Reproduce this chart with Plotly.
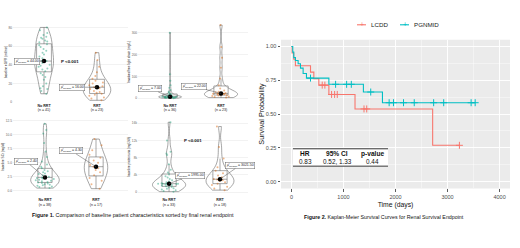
import numpy as np
import plotly.graph_objects as go

W, H = 520, 248
FONT = "Liberation Sans, Arial, sans-serif"

# ---------------- Figure 1 data (violin panels) ----------------
groups = ["No RRT", "RRT"]

egfr_no_rrt = [9, 12, 14, 15, 17, 20, 24, 27, 29, 31, 33, 35, 36, 38, 39, 40, 42, 43, 44, 44,
               44, 45, 47, 49, 51, 53, 55, 57, 59, 61, 62, 64, 65, 66, 68, 69, 70, 72, 74, 77, 80]
egfr_rrt = [2, 4, 5, 7, 8, 9, 10, 11, 12, 14, 15, 16, 17, 18, 20, 21, 23, 25, 28, 32, 38, 45, 53]

flc_no_rrt = [0.5, 1, 1.5, 2, 2.5, 3, 3.5, 4, 4.5, 5, 5.5, 6, 6, 6.5, 7, 7, 7, 7, 7, 8, 9, 10,
              11, 12, 14, 16, 18, 21, 25, 30, 38, 48, 60, 80, 110, 300]
flc_rrt = [3, 6, 8, 10, 12, 14, 16, 18, 19, 20, 21, 22, 24, 27, 30, 35, 45, 60, 90, 140, 185, 235, 335]

scr_no_rrt = [0.5, 0.7, 0.8, 0.9, 1.0, 1.1, 1.2, 1.3, 1.4, 1.5, 1.6, 1.7, 1.8, 1.9, 2.0, 2.1, 2.2,
              2.3, 2.4, 2.4, 2.5, 2.6, 2.8, 3.0, 3.1, 3.3, 3.5, 3.7, 4.0, 4.3, 4.7, 5.2, 6.0, 7.0,
              8.5, 10.2, 10.8, 11.9]
scr_rrt = [0.4, 1.2, 1.8, 2.3, 2.8, 3.3, 3.7, 4.0, 4.3, 4.6, 5.0, 5.4, 5.9, 6.4, 7.2, 8.1, 9.2]

prot_no_rrt = [150, 300, 480, 650, 800, 950, 1100, 1250, 1400, 1550, 1700, 1800, 1900, 1950, 1980,
               1990, 1995, 2100, 2300, 2500, 2800, 3100, 3400, 3700, 4100, 4600, 5200, 6500, 8600,
               9000, 9400, 12000, 16200]
prot_rrt = [500, 900, 1300, 1700, 2000, 2300, 2600, 2800, 2943, 3100, 3500, 3900, 4400, 5000, 5800,
            7800, 10500, 15200]

panel_data = [[egfr_no_rrt, egfr_rrt], [flc_no_rrt, flc_rrt],
              [scr_no_rrt, scr_rrt], [prot_no_rrt, prot_rrt]]
panel_titles = ["baseline eGFR (ml/min)", "Involved free light chain (mg/L)",
                "baseline SCr (mg/dl)", "baseline proteinuria (mg/24h)"]
panel_pvalues = ["P <0.001", "", "", "P <0.001"]
fig1_caption_bold = "Figure 1."
fig1_caption = " Comparison of baseline patient characteristics sorted by final renal endpoint"

# ---------------- Figure 2 data (Kaplan-Meier) ----------------
km_names = ["LCDD", "PGNMID"]
lcdd_time = [0, 13, 45, 77, 367, 431, 527, 720, 1222, 2714]
lcdd_surv = [1.0, 0.952, 0.905, 0.857, 0.81, 0.762, 0.714, 0.645, 0.538, 0.269]
lcdd_censor = [592, 643, 772, 830, 881, 1395, 1447, 3228]
pgnmid_time = [0, 26, 45, 77, 129, 174, 225, 289, 720, 1383, 1749]
pgnmid_surv = [1.0, 0.958, 0.917, 0.896, 0.872, 0.84, 0.80, 0.766, 0.72, 0.663, 0.584]
pgnmid_censor = [367, 849, 1061, 1151, 1524, 1878, 1961, 2154, 2360, 2733, 2926, 3453, 3531]
km_xticks = [0, 1000, 2000, 3000, 4000]
km_yticks = [0.0, 0.25, 0.5, 0.75, 1.0]
table_header = ["HR", "95% CI", "p-value"]
table_values = ["0.83", "0.52, 1.33", "0.44"]
fig2_caption_bold = "Figure 2."
fig2_caption = " Kaplan-Meier Survival Curves for Renal Survival Endpoint"

# ---------------- styles ----------------
pt_colors = ["rgba(27,158,119,0.45)", "rgba(217,95,2,0.45)"]
km_colors = ["#F8766D", "#00BFC4"]


def px(x):
    return x / W


def py(y):
    return 1 - y / H


def paper_text(x, y, text, size, color="#111", xanchor="center"):
    return dict(x=px(x), y=py(y), xref="paper", yref="paper", showarrow=False,
                xanchor=xanchor, yanchor="middle", text=text,
                font=dict(size=size, color=color))


panel_layout = [
    dict(x=(13, 128), y=(22, 103), xr=(-0.585, 1.585), yr=(0, 86), dtick=20, fmt="",
         vw=(0.36, 0.52), lab=((-17, 0), (-25, 0)), p=(70, 62)),
    dict(x=(138, 248), y=(22, 103), xr=(-0.63, 1.53), yr=(-18, 350), dtick=100, fmt="",
         vw=(0.45, 0.65), lab=((-20, -8), (-27, -7)), p=None),
    dict(x=(13, 128), y=(118, 198), xr=(-0.627, 1.627), yr=(-0.97, 13.1), dtick=2.5, fmt=".1f",
         vw=(0.56, 0.46), lab=((-19, -16), (-25, -16)), p=None),
    dict(x=(138, 248), y=(118, 198), xr=(-0.61, 1.55), yr=(-950, 17400), dtick=4000, fmt="",
         vw=(0.65, 0.55), lab=((21, -8), (20, -14)), p=(193, 142)),
]

fig = go.Figure()
layout = dict(width=W, height=H, margin=dict(l=0, r=0, t=0, b=0),
              paper_bgcolor="white", plot_bgcolor="white", showlegend=False,
              font=dict(family=FONT, color="#222"))
annotations = []
shapes = []

for i, (spec, data) in enumerate(zip(panel_layout, panel_data)):
    k = i + 1
    xr_ = "x" if k == 1 else f"x{k}"
    yr_ = "y" if k == 1 else f"y{k}"
    xa = "xaxis" if k == 1 else f"xaxis{k}"
    ya = "yaxis" if k == 1 else f"yaxis{k}"
    for j, g in enumerate(groups):
        vals = data[j]
        vw = spec["vw"][j]
        fig.add_trace(go.Violin(
            x=[g] * len(vals), y=vals, xaxis=xr_, yaxis=yr_, width=vw,
            spanmode="hard", scalemode="width",
            fillcolor="rgba(255,255,255,0)", line=dict(color="#6A6A6A", width=0.6),
            points="all", pointpos=0, jitter=0.7,
            marker=dict(size=2, color=pt_colors[j]),
            box=dict(visible=True, width=min(1.0, 0.28 / vw),
                     fillcolor="rgba(255,255,255,0.5)", line=dict(color="#505050", width=0.5)),
            meanline=dict(visible=False), showlegend=False, hoverinfo="skip"))
        med = float(np.median(vals))
        fig.add_trace(go.Scatter(x=[g], y=[med], xaxis=xr_, yaxis=yr_, mode="markers",
                                 marker=dict(size=4.5, color="black"), showlegend=False,
                                 hoverinfo="skip"))
        ax, ay = spec["lab"][j]
        annotations.append(dict(
            x=j, y=med, xref=xr_, yref=yr_, showarrow=True, ax=ax, ay=ay,
            xanchor="center", yanchor="middle",
            arrowhead=0, arrowwidth=0.5, arrowcolor="#555", standoff=0,
            text=f"<i>μ̂</i><sub>median</sub> = {med:.2f}",
            font=dict(size=3.5, color="#222"), bgcolor="white",
            bordercolor="#666", borderwidth=0.5, borderpad=0.6))
    ticktext = [f"<b>{g}</b><br>(n = {len(d)})" for g, d in zip(groups, data)]
    layout[xa] = dict(domain=[px(spec["x"][0]), px(spec["x"][1])], anchor=yr_,
                      type="category", range=list(spec["xr"]), tickvals=groups,
                      ticktext=ticktext, tickfont=dict(size=3.6, color="#222"),
                      showgrid=False, zeroline=False, showline=False, ticks="")
    layout[ya] = dict(domain=[py(spec["y"][1]), py(spec["y"][0])], anchor=xr_,
                      range=list(spec["yr"]), dtick=spec["dtick"], tick0=0,
                      tickformat=spec["fmt"], tickfont=dict(size=3.2, color="#666"),
                      showgrid=True, gridcolor="#E6E6E6", gridwidth=0.5, zeroline=False,
                      showline=False, ticks="",
                      title=dict(text=panel_titles[i], font=dict(size=3.1, color="#222"),
                                 standoff=1))
    if spec["p"] is not None and panel_pvalues[i]:
        annotations.append(paper_text(spec["p"][0], spec["p"][1],
                                      f"<b>{panel_pvalues[i]}</b>", 4.4))

annotations.append(paper_text(132.5, 217, f"<b>{fig1_caption_bold}</b>{fig1_caption}", 5.3))

# ---------------- Kaplan-Meier ----------------
KX0, KX1, KY0, KY1 = 281, 510, 40, 190
shapes.append(dict(type="rect", xref="paper", yref="paper", x0=px(KX0), x1=px(KX1),
                   y0=py(KY1), y1=py(KY0), fillcolor="#EBEBEB", line=dict(width=0),
                   layer="below"))

km_sets = [(lcdd_time, lcdd_surv, lcdd_censor), (pgnmid_time, pgnmid_surv, pgnmid_censor)]
for (t, s, c), name, col in zip(km_sets, km_names, km_colors):
    xs = list(t) + [max(c)]
    ys = list(s) + [s[-1]]
    fig.add_trace(go.Scatter(x=xs, y=ys, xaxis="x5", yaxis="y5", mode="lines", name=name,
                             line=dict(color=col, width=1.1, shape="hv"), showlegend=False,
                             hoverinfo="skip"))
    cy = [s[int(np.searchsorted(t, ci, side="right")) - 1] for ci in c]
    fig.add_trace(go.Scatter(x=c, y=cy, xaxis="x5", yaxis="y5", mode="markers",
                             marker=dict(symbol="cross-thin", size=5,
                                         line=dict(color=col, width=1)),
                             showlegend=False, hoverinfo="skip"))

layout["xaxis5"] = dict(domain=[px(KX0), px(KX1)], anchor="y5", range=[-200, 4200],
                        tickvals=km_xticks, showgrid=True, gridcolor="white", gridwidth=0.9,
                        minor=dict(dtick=500, tick0=0, showgrid=True, gridcolor="white",
                                   gridwidth=0.4),
                        zeroline=False, showline=False, ticks="outside", ticklen=2.5,
                        tickwidth=0.8, tickcolor="#333",
                        tickfont=dict(size=5.5, color="#4D4D4D"),
                        title=dict(text="Time (days)", font=dict(size=6.8, color="#111"),
                                   standoff=3))
layout["yaxis5"] = dict(domain=[py(KY1), py(KY0)], anchor="x5", range=[-0.05, 1.05],
                        tickvals=km_yticks, tickformat=".2f", showgrid=True,
                        gridcolor="white", gridwidth=0.9,
                        minor=dict(dtick=0.125, tick0=0, showgrid=True, gridcolor="white",
                                   gridwidth=0.4),
                        zeroline=False, showline=False, ticks="outside", ticklen=2.5,
                        tickwidth=0.8, tickcolor="#333",
                        tickfont=dict(size=5.5, color="#4D4D4D"),
                        title=dict(text="Survival Probability",
                                   font=dict(size=7.2, color="#111"), standoff=0))

# legend (drawn manually, top centre)
leg_items = [(357, km_names[0], km_colors[0]), (400, km_names[1], km_colors[1])]
for lx, name, col in leg_items:
    shapes.append(dict(type="line", xref="paper", yref="paper", x0=px(lx), x1=px(lx + 9),
                       y0=py(25), y1=py(25), line=dict(color=col, width=1.1)))
    annotations.append(paper_text(lx + 4.5, 25, "+", 7, col))
    annotations.append(paper_text(lx + 11.5, 25, name, 6.2, "#222", xanchor="left"))

# HR table
TX0, TX1, TY0, TY1 = 293, 388, 150, 167.5
shapes.append(dict(type="rect", xref="paper", yref="paper", x0=px(TX0), x1=px(TX1),
                   y0=py(TY1), y1=py(TY0), fillcolor="white", line=dict(width=0),
                   layer="above"))
for yy in (TY0, TY1):
    shapes.append(dict(type="line", xref="paper", yref="paper", x0=px(TX0), x1=px(TX1),
                       y0=py(yy), y1=py(yy), line=dict(color="#222", width=0.9),
                       layer="above"))
col_x = [305, 337, 372]
for cx, hd, vv in zip(col_x, table_header, table_values):
    annotations.append(paper_text(cx, 155, f"<b>{hd}</b>", 6.6))
    annotations.append(paper_text(cx, 162.8, vv, 6.4))

annotations.append(paper_text(383.5, 219, f"<b>{fig2_caption_bold}</b>{fig2_caption}", 5.3))

layout["annotations"] = annotations
layout["shapes"] = shapes
fig.update_layout(**layout)
fig.write_html("out.html",
               config={"displayModeBar": False, "staticPlot": True},
               post_script="document.body.style.margin='0';document.body.style.overflow='hidden';")
